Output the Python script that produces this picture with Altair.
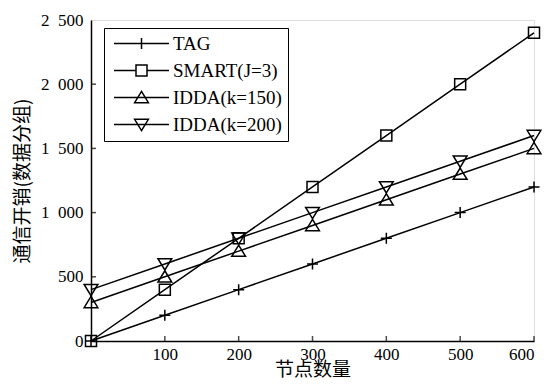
import altair as alt
import pandas as pd

x_vals = [0, 100, 200, 300, 400, 500, 600]
tag = [0, 200, 400, 600, 800, 1000, 1200]
smart = [0, 400, 800, 1200, 1600, 2000, 2400]
idda150 = [300, 500, 700, 900, 1100, 1300, 1500]
idda200 = [400, 600, 800, 1000, 1200, 1400, 1600]
series_names = ["TAG", "SMART(J=3)", "IDDA(k=150)", "IDDA(k=200)"]
x_ticks = [100, 200, 300, 400, 500, 600]
y_ticks = [0, 500, 1000, 1500, 2000, 2500]

rows = []
for name, vals in zip(series_names, [tag, smart, idda150, idda200]):
    for x, v in zip(x_vals, vals):
        rows.append({"series": name, "x": x, "y": v})
df = pd.DataFrame(rows)
xt_df = pd.DataFrame({"t": x_ticks})
yt_df = pd.DataFrame({"t": y_ticks[1:-1]})

mark_shapes = [
    "M-1,0H1M0,-1V1",
    "M-1,-1H1V1H-1Z",
    "M0,-1.1L1.25,0.95H-1.25Z",
    "M0,1.1L1.25,-0.95H-1.25Z",
]
legend_shapes = [
    "M-5,0H5M0,-1V1",
    "M-5,0H-1M1,0H5M-1,-1H1V1H-1Z",
    "M-5,0H5M0,-1.1L1.25,0.95H-1.25Z",
    "M-5,0H5M0,1.1L1.25,-0.95H-1.25Z",
]

SERIF = "Liberation Serif"
CJK = "Noto Sans CJK SC"

xenc = alt.X("x:Q", scale=alt.Scale(domain=[0, 600], nice=False),
             axis=alt.Axis(values=x_ticks, title="节点数量", grid=False,
                           ticks=False, labelFont=SERIF, labelFontSize=17,
                           labelPadding=5, titleFont=CJK, titleFontSize=19,
                           titleFontWeight="normal", titlePadding=-2,
                           domainColor="black", domainWidth=1.5, labelColor="black",
                           titleColor="black"))
yenc = alt.Y("y:Q", scale=alt.Scale(domain=[0, 2500], nice=False),
             axis=alt.Axis(values=y_ticks, title="通信开销(数据分组)", grid=False,
                           labelExpr="replace(format(datum.value, ','), ',', '\u2002')",
                           ticks=False,
                           labelFont=SERIF, labelFontSize=17, labelPadding=8,
                           titleFont=CJK, titleFontSize=19, titleFontWeight="normal",
                           titlePadding=8, domainColor="black", domainWidth=1.5,
                           labelColor="black", titleColor="black"))

lines = alt.Chart(df).mark_line(color="black", strokeWidth=1.5, clip=False).encode(
    x=xenc, y=yenc, detail="series:N"
)

points = alt.Chart(df).mark_point(filled=False, color="black", strokeWidth=1.5,
                                  size=121, opacity=1, clip=False).encode(
    x="x:Q", y="y:Q",
    shape=alt.Shape("series:N", scale=alt.Scale(domain=series_names, range=mark_shapes),
                    legend=None),
)

legend_layer = alt.Chart(df).mark_point(filled=False, color="black", opacity=0,
                                        size=1).encode(
    x="x:Q", y="y:Q",
    shape=alt.Shape("series:N", scale=alt.Scale(domain=series_names, range=legend_shapes),
                    legend=alt.Legend(title=None, orient="none", legendX=13, legendY=8,
                                      symbolSize=121, symbolOpacity=1,
                                      symbolStrokeColor="black", symbolFillColor="transparent",
                                      symbolStrokeWidth=1.5, symbolOffset=22,
                                      labelOffset=22, labelFont=SERIF, labelFontSize=19,
                                      labelColor="black", rowPadding=7, padding=6,
                                      strokeColor="black", fillColor="white",
                                      labelLimit=300)),
)

xtick_marks = alt.Chart(xt_df).mark_tick(color="black", thickness=1.5, size=5,
                                         orient="vertical", yOffset=-2.5).encode(
    x="t:Q", y=alt.datum(0)
)
ytick_marks = alt.Chart(yt_df).mark_tick(color="black", thickness=1.5, size=5,
                                         orient="horizontal", xOffset=2.5).encode(
    y="t:Q", x=alt.datum(0)
)

chart = alt.layer(lines, points, legend_layer, xtick_marks, ytick_marks).resolve_scale(
    shape="independent"
).properties(
    width=537, height=371,
    autosize=alt.AutoSizeParams(type="fit", contains="padding"),
    padding={"left": 5, "right": 1, "top": 3, "bottom": 0},
).configure_view(
    stroke="black", strokeWidth=1.5
).configure(background="white")

chart.save("out.html", embed_options={"renderer": "svg", "actions": False})
